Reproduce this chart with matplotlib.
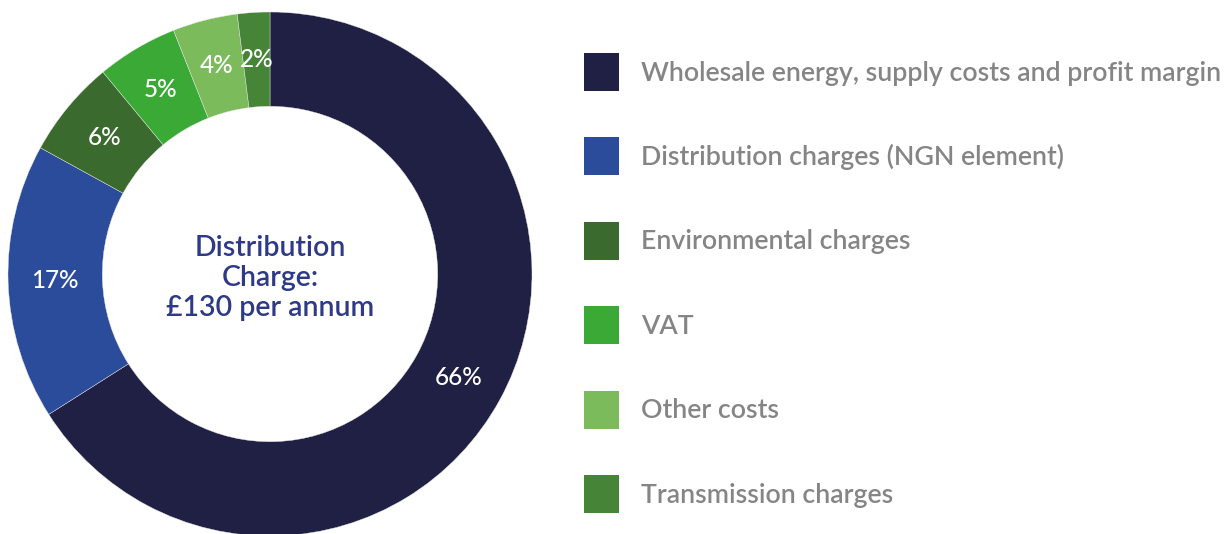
import matplotlib
matplotlib.use("Agg")
import matplotlib.pyplot as plt
from matplotlib.patches import Rectangle

plt.rcParams["font.family"] = ["Lato", "DejaVu Sans"]

# Breakdown of the annual gas bill (percent)
categories = [
    "Wholesale energy, supply costs and profit margin",
    "Distribution charges (NGN element)",
    "Environmental charges",
    "VAT",
    "Other costs",
    "Transmission charges",
]
shares = [66, 17, 6, 5, 4, 2]
colors = ["#1F2044", "#2B4C9B", "#3B6A2E", "#3AA935", "#7CBB5B", "#468437"]
centre_lines = ["Distribution", "Charge:", "£130 per annum"]

W, H = 1232, 534
fig = plt.figure(figsize=(W / 100, H / 100), dpi=100)
fig.patch.set_facecolor("white")

# Donut: centre (270, 274) px from top-left, outer radius 262 px
cx, cy, r = 270, 274, 262
ax = fig.add_axes([(cx - r) / W, (H - cy - r) / H, 2 * r / W, 2 * r / H])

wedges, texts, autotexts = ax.pie(
    shares,
    colors=colors,
    startangle=90,
    counterclock=False,
    radius=1.0,
    autopct=lambda p: f"{p:.0f}%",
    pctdistance=0.82,
    wedgeprops=dict(width=0.36, linewidth=0.3, edgecolor="#e8e8e8"),
    textprops=dict(color="white", fontsize=17.5, fontweight="medium"),
)
ax.set_xlim(-1, 1)
ax.set_ylim(-1, 1)
ax.set_aspect("equal")
ax.axis("off")

ax.text(0, -0.015, "\n".join(centre_lines), ha="center", va="center",
        fontsize=20.5, color="#2E3A87", fontweight="semibold",
        linespacing=1.2)

# Legend: coloured squares with grey labels, drawn in figure pixels
sq_x, sq_w, sq_h = 584, 35, 38
row0, row_step = 72, 84.4
for i, (label, col) in enumerate(zip(categories, colors)):
    yc = row0 + i * row_step
    fig.patches.append(Rectangle(((sq_x) / W, 1 - (yc + sq_h / 2) / H),
                                 sq_w / W, sq_h / H, transform=fig.transFigure,
                                 facecolor=col, edgecolor="none"))
    fig.text(641 / W, 1 - (yc + 1) / H, label, ha="left", va="center",
             fontsize=19.3, color="#858585", fontweight="semibold")

fig.savefig("out.png", dpi=100, facecolor="white")
